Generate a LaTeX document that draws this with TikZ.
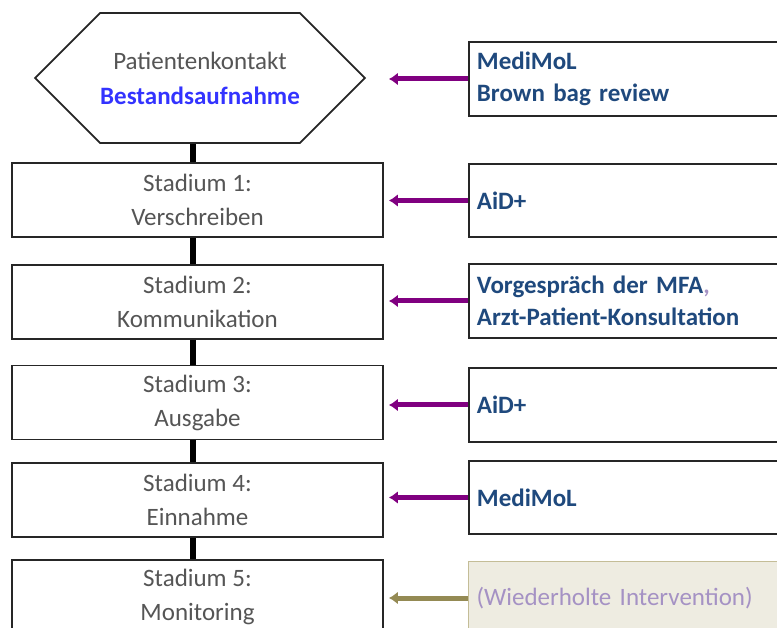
\documentclass[tikz,border=0pt]{standalone}
\usepackage{fontspec}
\setmainfont{Carlito}
\usetikzlibrary{shapes.symbols,arrows.meta}
\definecolor{stext}{HTML}{555555}
\definecolor{itext}{HTML}{1F497D}
\definecolor{hblue}{HTML}{3333FF}
\definecolor{arrpurple}{HTML}{800080}
\definecolor{arrolive}{HTML}{948A54}
\definecolor{beige}{HTML}{EEECE1}
\definecolor{beigeline}{HTML}{C4BD97}
\definecolor{lpurple}{HTML}{A592C4}
\begin{document}
\begin{tikzpicture}[x=1pt,y=-1pt,
  stagebox/.style={draw=black!85, line width=1.8pt, fill=white, minimum width=371pt,
    minimum height=74pt, align=center, text=stext, inner sep=0pt,
    font=\fontsize{25}{34}\selectfont},
  hexbox/.style={signal, signal to=west and east, draw=black!85, line width=1.8pt, fill=white,
    minimum width=326pt, minimum height=130pt, align=center, text=stext, inner sep=0pt,
    font=\fontsize{25}{35}\selectfont},
  infobox/.style={draw=black!85, line width=1.8pt, fill=white, minimum width=330pt,
    minimum height=74pt, anchor=west, align=left, text=itext, inner xsep=8pt, inner ysep=0pt,
    text width=314pt, font=\fontsize{25}{32}\selectfont\bfseries},
  repbox/.style={infobox, draw=beigeline, line width=1pt, fill=beige, text=lpurple,
    font=\fontsize{25}{32}\selectfont},
  conn/.style={line width=6.5pt, black},
  iarrow/.style={line width=5pt, arrpurple, -{Latex[length=9pt,width=13pt]}, shorten >=5pt},
  rarrow/.style={iarrow, arrolive}
]
\useasboundingbox (0,0) rectangle (777,628);
\clip (0,0) rectangle (777,628);

\node[hexbox] (hex) at (200,78) {Patientenkontakt\\\textcolor{hblue}{\bfseries Bestandsaufnahme}};
\node[stagebox] (s1) at (197.5,200) {Stadium 1:\\Verschreiben};
\node[stagebox] (s2) at (197.5,302) {Stadium 2:\\Kommunikation};
\node[stagebox] (s3) at (197.5,402.5) {Stadium 3:\\Ausgabe};
\node[stagebox] (s4) at (197.5,500) {Stadium 4:\\Einnahme};
\node[stagebox] (s5) at (197.5,597) {Stadium 5:\\Monitoring};

\draw[conn] ([xshift=-7pt]hex.south) -- ([xshift=-4.5pt]s1.north);
\draw[conn] ([xshift=-4.5pt]s1.south) -- ([xshift=-4.5pt]s2.north);
\draw[conn] ([xshift=-4.5pt]s2.south) -- ([xshift=-4.5pt]s3.north);
\draw[conn] ([xshift=-4.5pt]s3.south) -- ([xshift=-4.5pt]s4.north);
\draw[conn] ([xshift=-4.5pt]s4.south) -- ([xshift=-4.5pt]s5.north);

\node[infobox] (i1) at (468,79) {MediMoL\\Brown bag review};
\node[infobox, minimum height=73pt] (i2) at (468,200.5) {AiD+};
\node[infobox] (i3) at (468,301) {Vorgespräch der MFA\textcolor{lpurple}{,}\\Arzt-Patient-Konsultation};
\node[infobox] (i4) at (468,405) {AiD+};
\node[infobox, minimum height=73pt] (i5) at (468,497.5) {MediMoL};
\node[repbox] (i6) at (468,598) {(Wiederholte Intervention)};

\draw[iarrow] (i1.west) -- (i1.west -| s1.east);
\draw[iarrow] (i2.west) -- (i2.west -| s1.east);
\draw[iarrow] (i3.west) -- (i3.west -| s2.east);
\draw[iarrow] (i4.west) -- (i4.west -| s3.east);
\draw[iarrow] (i5.west) -- (i5.west -| s4.east);
\draw[rarrow] (i6.west) -- (i6.west -| s5.east);
\end{tikzpicture}
\end{document}
